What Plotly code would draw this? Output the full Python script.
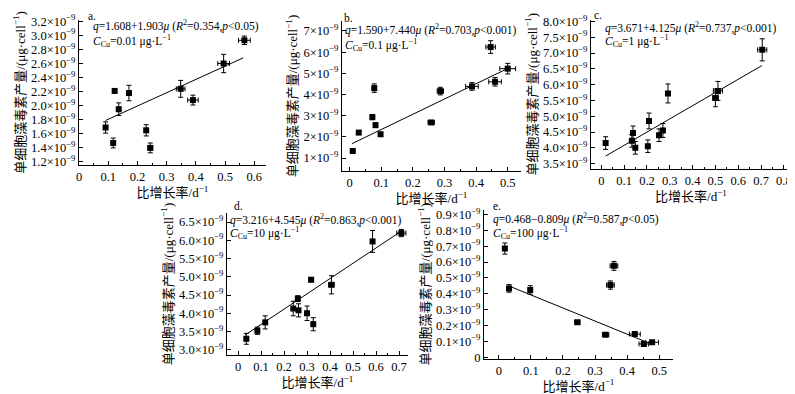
import plotly.graph_objects as go

# ---------------- data (values in units of 1e-9 μg·cell^-1) ----------------
a_x = [0.091, 0.117, 0.122, 0.136, 0.171, 0.230, 0.244, 0.348, 0.390, 0.495, 0.566]
a_y = [1.69, 1.47, 2.21, 1.95, 2.18, 1.65, 1.40, 2.24, 2.08, 2.60, 2.93]
a_yerr = [0.08, 0.07, 0.02, 0.09, 0.11, 0.08, 0.07, 0.12, 0.07, 0.13, 0.06]
a_xerr = [0.003, 0.003, 0.003, 0.003, 0.003, 0.005, 0.008, 0.015, 0.018, 0.02, 0.02]
a_fit_x = [0.091, 0.562]
a_fit_y = [1.79, 2.68]

b_x = [0.010, 0.029, 0.072, 0.078, 0.082, 0.098, 0.258, 0.287, 0.387, 0.446, 0.460, 0.500]
b_y = [1.33, 2.20, 2.93, 4.30, 2.55, 2.12, 2.68, 4.16, 4.38, 6.24, 4.60, 5.22]
b_yerr = [0.04, 0.08, 0.12, 0.20, 0.10, 0.08, 0.08, 0.18, 0.18, 0.30, 0.20, 0.25]
b_xerr = [0.003, 0.003, 0.003, 0.003, 0.003, 0.003, 0.01, 0.01, 0.02, 0.015, 0.02, 0.025]
b_fit_x = [0.008, 0.499]
b_fit_y = [1.68, 5.22]

c_x = [0.019, 0.134, 0.139, 0.149, 0.204, 0.209, 0.253, 0.270, 0.292, 0.500, 0.511, 0.705]
c_y = [4.15, 4.22, 4.47, 4.00, 4.05, 4.85, 4.40, 4.55, 5.72, 5.58, 5.80, 7.10]
c_yerr = [0.20, 0.20, 0.22, 0.20, 0.20, 0.25, 0.20, 0.22, 0.30, 0.28, 0.30, 0.35]
c_xerr = [0.003, 0.003, 0.003, 0.003, 0.003, 0.003, 0.003, 0.005, 0.008, 0.012, 0.02, 0.02]
c_fit_x = [0.019, 0.703]
c_fit_y = [3.74, 6.60]

d_x = [0.036, 0.084, 0.118, 0.240, 0.260, 0.263, 0.300, 0.318, 0.327, 0.406, 0.585, 0.710]
d_y = [3.30, 3.52, 3.75, 4.13, 4.40, 4.08, 4.00, 4.92, 3.70, 4.78, 5.97, 6.20]
d_yerr = [0.15, 0.10, 0.18, 0.20, 0.08, 0.18, 0.20, 0.06, 0.18, 0.25, 0.30, 0.10]
d_xerr = [0.003, 0.003, 0.003, 0.003, 0.003, 0.003, 0.003, 0.01, 0.003, 0.012, 0.003, 0.02]
d_fit_x = [0.030, 0.707]
d_fit_y = [3.40, 6.24]

e_x = [0.019, 0.032, 0.098, 0.245, 0.333, 0.348, 0.359, 0.424, 0.452, 0.478]
e_y = [0.685, 0.434, 0.424, 0.221, 0.142, 0.455, 0.576, 0.146, 0.084, 0.094]
e_yerr = [0.035, 0.024, 0.027, 0.005, 0.004, 0.026, 0.028, 0.006, 0.005, 0.005]
e_xerr = [0.003, 0.006, 0.003, 0.008, 0.010, 0.012, 0.012, 0.017, 0.015, 0.020]
e_fit_x = [0.032, 0.460]
e_fit_y = [0.449, 0.096]

letters = ["a.", "b.", "c.", "d.", "e."]
equations = [
    "<i>q</i>=1.608+1.903<i>μ</i> (<i>R</i><sup>2</sup>=0.354,<i>p</i>&lt;0.05)",
    "<i>q</i>=1.590+7.440<i>μ</i> (<i>R</i><sup>2</sup>=0.703,<i>p</i>&lt;0.001)",
    "<i>q</i>=3.671+4.125<i>μ</i> (<i>R</i><sup>2</sup>=0.737,<i>p</i>&lt;0.001)",
    "<i>q</i>=3.216+4.545<i>μ</i> (<i>R</i><sup>2</sup>=0.863,<i>p</i>&lt;0.001)",
    "<i>q</i>=0.468−0.809<i>μ</i> (<i>R</i><sup>2</sup>=0.587,<i>p</i>&lt;0.05)",
]
concs = ["0.01", "0.1", "1", "10", "100"]

a_yticks = [1.2, 1.4, 1.6, 1.8, 2.0, 2.2, 2.4, 2.6, 2.8, 3.0, 3.2]
a_ylabels = ["1.2", "1.4", "1.6", "1.8", "2.0", "2.2", "2.4", "2.6", "2.8", "3.0", "3.2"]
b_yticks = [1, 2, 3, 4, 5, 6, 7]
b_ylabels = ["1", "2", "3", "4", "5", "6", "7"]
c_yticks = [3.5, 4.0, 4.5, 5.0, 5.5, 6.0, 6.5, 7.0, 7.5, 8.0]
c_ylabels = ["3.5", "4.0", "4.5", "5.0", "5.5", "6.0", "6.5", "7.0", "7.5", "8.0"]
d_yticks = [3.0, 3.5, 4.0, 4.5, 5.0, 5.5, 6.0, 6.5]
d_ylabels = ["3.0", "3.5", "4.0", "4.5", "5.0", "5.5", "6.0", "6.5"]
e_yticks = [0, 0.1, 0.2, 0.3, 0.4, 0.5, 0.6, 0.7, 0.8, 0.9]
e_ylabels = ["0", "0.1", "0.2", "0.3", "0.4", "0.5", "0.6", "0.7", "0.8", "0.9"]

x_title = "比增长率/d<sup>−1</sup>"
y_title = "单细胞藻毒素产量/(μg·cell<sup>−1</sup>)"

# ---------------- layout geometry ----------------
W, H = 795, 394
panels = [
    (a_x, a_y, a_yerr, a_xerr, a_fit_x, a_fit_y, a_yticks, a_ylabels,
     (71, 258, 11.9, 157), [0.0, 0.64], [1.157, 3.22], (0.037, 1.03, 0.064, 0.958, 0.855)),
    (b_x, b_y, b_yerr, b_xerr, b_fit_x, b_fit_y, b_yticks, b_ylabels,
     (334, 513, 13, 163), [-0.024, 0.542], [0.386, 7.47], (0.0, 1.02, 0.005, 0.942, 0.842)),
    (c_x, c_y, c_yerr, c_xerr, c_fit_x, c_fit_y, c_yticks, c_ylabels,
     (583, 783, 11.5, 161), [-0.045, 0.831], [3.33, 8.06], (0.005, 1.032, 0.06, 0.948, 0.854)),
    (d_x, d_y, d_yerr, d_xerr, d_fit_x, d_fit_y, d_yticks, d_ylabels,
     (219, 400, 205, 347), [-0.048, 0.739], [2.855, 6.75], (0.03, 1.049, 0.005, 0.953, 0.859)),
    (e_x, e_y, e_yerr, e_xerr, e_fit_x, e_fit_y, e_yticks, e_ylabels,
     (476, 665, 201.7, 350.5), [-0.046, 0.543], [-0.008, 0.93], (0.037, 1.023, 0.037, 0.94, 0.843)),
]

SERIF = "Liberation Serif, Noto Sans CJK SC, serif"
TICK_SIZE = 12.5
ANN_SIZE = 11.5
TITLE_SIZE = 13

fig = go.Figure()
layout = dict(
    width=W, height=H, margin=dict(l=0, r=0, t=0, b=0),
    paper_bgcolor="white", plot_bgcolor="white", showlegend=False,
    font=dict(family=SERIF, size=TICK_SIZE, color="black"),
)
annotations = []
for i, (px, py, pye, pxe, fx, fy, yt, yl, box, xr, yr, ann) in enumerate(panels):
    n = i + 1
    xa = "x" if n == 1 else f"x{n}"
    ya = "y" if n == 1 else f"y{n}"
    l, r, t, b = box
    fig.add_trace(go.Scatter(
        x=px, y=py, mode="markers", xaxis=xa, yaxis=ya,
        marker=dict(symbol="square", size=6, color="black"),
        error_y=dict(type="data", array=pye, color="black", thickness=1, width=2.5),
        error_x=dict(type="data", array=pxe, color="black", thickness=1, width=2.5),
    ))
    fig.add_trace(go.Scatter(
        x=fx, y=fy, mode="lines", xaxis=xa, yaxis=ya,
        line=dict(color="black", width=1),
    ))
    axcommon = dict(showline=True, linecolor="black", linewidth=1, mirror=False,
                    showgrid=False, zeroline=False, ticks="inside", ticklen=4,
                    tickcolor="black",
                    tickfont=dict(family=SERIF, size=TICK_SIZE, color="black"),
                    automargin=False)
    layout["xaxis" if n == 1 else f"xaxis{n}"] = dict(
        axcommon, domain=[l / W, r / W], range=xr, anchor=ya, dtick=0.1, tick0=0,
        minor=dict(ticks="inside", ticklen=2, dtick=0.05, tick0=0, tickcolor="black"),
        title=dict(text=x_title, font=dict(family=SERIF, size=TITLE_SIZE), standoff=3),
    )
    layout["yaxis" if n == 1 else f"yaxis{n}"] = dict(
        axcommon, domain=[1 - b / H, 1 - t / H], range=yr, anchor=xa,
        tickvals=yt,
        ticktext=[s if s == "0" else s + "×10<sup>−9</sup>" for s in yl],
        title=dict(text=y_title, font=dict(family=SERIF, size=TITLE_SIZE), standoff=2),
    )
    lx, ly, ex, ey, cy = ann
    xd = f"{xa} domain"
    yd = f"{ya} domain"
    annotations.append(dict(text=letters[i], x=lx, y=ly, xref=xd, yref=yd,
                            xanchor="left", yanchor="middle", showarrow=False,
                            font=dict(family=SERIF, size=ANN_SIZE)))
    annotations.append(dict(text=equations[i], x=ex, y=ey, xref=xd, yref=yd,
                            xanchor="left", yanchor="middle", showarrow=False,
                            font=dict(family=SERIF, size=ANN_SIZE)))
    annotations.append(dict(text="<i>C</i><sub>Cu</sub>=" + concs[i] + " μg·L<sup>−1</sup>",
                            x=ex, y=cy, xref=xd, yref=yd,
                            xanchor="left", yanchor="middle", showarrow=False,
                            font=dict(family=SERIF, size=ANN_SIZE)))
layout["annotations"] = annotations
fig.update_layout(**layout)
fig.write_html("out.html")
